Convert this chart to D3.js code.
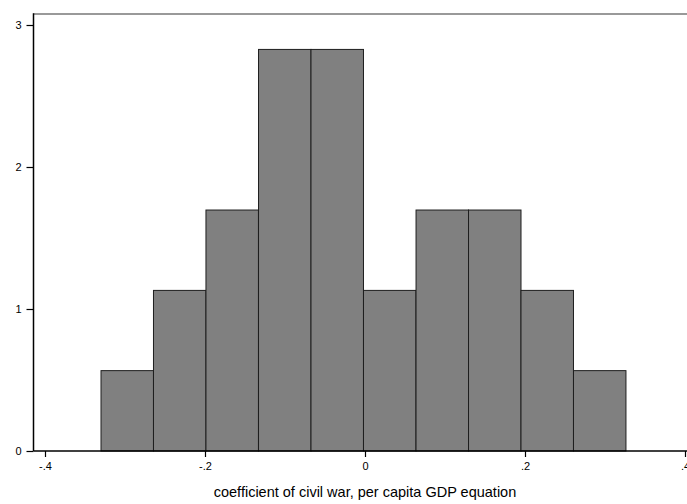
<!DOCTYPE html>
<html>
<head>
<meta charset="utf-8">
<script src="https://cdn.jsdelivr.net/npm/d3@7"></script>
<style>
  body { margin: 0; background: #fff; }
  text { font-family: "Liberation Sans", Arial, Helvetica, sans-serif; fill: #000; }
</style>
</head>
<body>
<div id="chart"></div>
<script>
// histogram bins (left edge of each bin) and densities
var binStarts = [-0.330, -0.2644, -0.1988, -0.1331, -0.0675, -0.0019, 0.0638, 0.1294, 0.1950, 0.2606];
var binWidth = 0.0656;
var densities = [0.566, 1.131, 1.697, 2.828, 2.828, 1.131, 1.697, 1.697, 1.131, 0.566];
var xTicks = [-0.4, -0.2, 0, 0.2, 0.4];
var xTickLabels = ["-.4", "-.2", "0", ".2", ".4"];
var yTicks = [0, 1, 2, 3];
var xTitle = "coefficient of civil war, per capita GDP equation";

var W = 687, H = 504;
var plotLeft = 33.5, plotTop = 14, plotRight = 687, plotBottom = 451;

var svg = d3.select('#chart')
  .append('svg')
  .attr('width', W)
  .attr('height', H);

var x = d3.scaleLinear().domain([-0.4, 0.4]).range([45, 685]);
var y = d3.scaleLinear().domain([0, 3]).range([plotBottom, 25]);

var data = binStarts.map(function (s, i) {
  return { x0: s, x1: s + binWidth, d: densities[i] };
});

// plot region top border
svg.append('line')
  .attr('x1', plotLeft).attr('x2', plotRight)
  .attr('y1', plotTop).attr('y2', plotTop)
  .attr('stroke', '#777')
  .attr('stroke-width', 1.6);

// bars
svg.append('g')
  .selectAll('rect')
  .data(data)
  .enter().append('rect')
  .attr('x', function (d) { return x(d.x0); })
  .attr('y', function (d) { return y(d.d); })
  .attr('width', function (d) { return x(d.x1) - x(d.x0); })
  .attr('height', function (d) { return plotBottom - y(d.d); })
  .attr('fill', '#808080')
  .attr('stroke', '#1e1e1e')
  .attr('stroke-width', 1);

// y axis
var yAxis = svg.append('g')
  .attr('transform', 'translate(' + plotLeft + ',0)')
  .call(d3.axisLeft(y).tickValues(yTicks).tickFormat(d3.format('d')).tickSize(7).tickPadding(5));
yAxis.select('.domain').remove();
yAxis.selectAll('line').attr('stroke', '#000').attr('stroke-width', 1.2);
yAxis.selectAll('text').style('font-size', '11px').attr('fill', '#000');
svg.append('line')
  .attr('x1', plotLeft).attr('x2', plotLeft)
  .attr('y1', plotTop - 0.8).attr('y2', plotBottom)
  .attr('stroke', '#000').attr('stroke-width', 1.5);

// x axis
var xAxis = svg.append('g')
  .attr('transform', 'translate(0,' + plotBottom + ')')
  .call(d3.axisBottom(x).tickValues(xTicks)
    .tickFormat(function (d, i) { return xTickLabels[i]; })
    .tickSize(6).tickPadding(5));
xAxis.select('.domain').remove();
xAxis.selectAll('line').attr('stroke', '#000').attr('stroke-width', 1.2);
xAxis.selectAll('text').style('font-size', '11px').attr('fill', '#000');
svg.append('line')
  .attr('x1', plotLeft).attr('x2', plotRight)
  .attr('y1', plotBottom).attr('y2', plotBottom)
  .attr('stroke', '#000').attr('stroke-width', 1.5);

// x title
svg.append('text')
  .attr('x', x(0))
  .attr('y', 497)
  .attr('text-anchor', 'middle')
  .style('font-size', '14.5px')
  .text(xTitle);
</script>
</body>
</html>
